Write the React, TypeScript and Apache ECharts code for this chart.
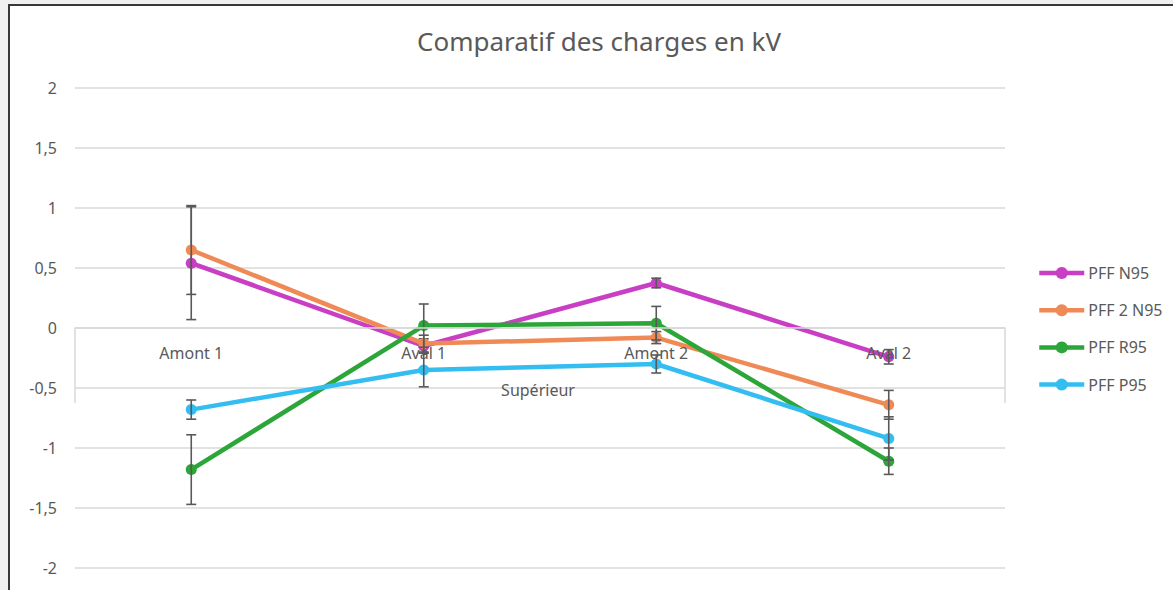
import React, { useEffect, useRef } from "react";
import * as echarts from "echarts";

const categories = ["Amont 1", "Aval 1", "Amont 2", "Aval 2"];
const groupLabel = "Supérieur";
const seriesNames = ["PFF N95", "PFF 2 N95", "PFF R95", "PFF P95"];
const valuesN95 = [0.54, -0.15, 0.375, -0.24];
const values2N95 = [0.65, -0.13, -0.08, -0.64];
const valuesR95 = [-1.18, 0.02, 0.04, -1.11];
const valuesP95 = [-0.68, -0.35, -0.3, -0.92];
const errN95 = [0.47, 0.06, 0.04, 0.06];
const err2N95 = [0.37, 0.07, 0.05, 0.12];
const errR95 = [0.29, 0.18, 0.14, 0.11];
const errP95 = [0.08, 0.14, 0.075, 0.18];
const colors = ["#c83ec4", "#ef8a56", "#2ca539", "#33bdf0"];

const W = 1163;
const H = 584;
const gridLeft = 65;
const gridWidth = 930;
const gridTop = 82;
const gridHeight = 480;
const textColor = "#595959";
const font = "'Noto Sans', 'Open Sans', sans-serif";

export default function App() {
  const ref = useRef<HTMLDivElement>(null);
  useEffect(() => {
    if (!ref.current) return;
    const chart = echarts.init(ref.current, undefined, { renderer: "svg" });
    const values = [valuesN95, values2N95, valuesR95, valuesP95];
    const errs = [errN95, err2N95, errR95, errP95];
    const lineSeries = values.map((v, i) => ({
      name: seriesNames[i],
      type: "line",
      data: v,
      symbol: "circle",
      symbolSize: 11,
      z: 2 + i * 2,
      lineStyle: { width: 4.5, color: colors[i] },
      itemStyle: { color: colors[i] },
    }));
    const errSeries = values.map((v, i) => ({
      type: "custom",
      z: 3 + i * 2,
      silent: true,
      data: v.map((val, k) => [k, val - errs[i][k], val + errs[i][k]]),
      renderItem: (params: any, api: any) => {
        const x = api.value(0);
        const lo = api.coord([x, api.value(1)]);
        const hi = api.coord([x, api.value(2)]);
        const style = { stroke: "#595959", lineWidth: 1.6 };
        const cap = 5;
        return {
          type: "group",
          children: [
            { type: "line", shape: { x1: lo[0], y1: lo[1], x2: hi[0], y2: hi[1] }, style },
            { type: "line", shape: { x1: lo[0] - cap, y1: lo[1], x2: lo[0] + cap, y2: lo[1] }, style },
            { type: "line", shape: { x1: hi[0] - cap, y1: hi[1], x2: hi[0] + cap, y2: hi[1] }, style },
          ],
        };
      },
    }));
    const zeroY = gridTop + gridHeight / 2;
    chart.setOption({
      animation: false,
      backgroundColor: "#ffffff",
      title: {
        text: "Comparatif des charges en kV",
        left: 584,
        textAlign: "center",
        top: 17,
        textStyle: { fontSize: 26, fontWeight: "normal", color: textColor, fontFamily: font },
      },
      legend: {
        orient: "vertical",
        left: 1027,
        top: 259,
        padding: 0,
        itemWidth: 45,
        itemHeight: 15,
        itemGap: 21.2,
        data: seriesNames,
        lineStyle: { width: 4.5 },
        textStyle: { fontSize: 16, lineHeight: 15, color: textColor, fontFamily: font, padding: [0, 0, 0, -1] },
      },
      grid: {
        left: gridLeft,
        top: gridTop,
        width: gridWidth,
        height: gridHeight,
        outerBoundsMode: "none",
        containLabel: false,
      },
      xAxis: {
        type: "category",
        data: categories,
        z: 20,
        position: "bottom",
        offset: -gridHeight / 2,
        axisLine: { onZero: false, lineStyle: { color: "#d9d9d9", width: 1.5 } },
        axisTick: { show: false },
        axisLabel: { margin: 17, fontSize: 16, color: textColor, fontFamily: font },
      },
      yAxis: {
        type: "value",
        min: -2,
        max: 2,
        interval: 0.5,
        axisLine: { show: false },
        axisTick: { show: false },
        splitLine: { lineStyle: { color: "#d9d9d9", width: 1.5 } },
        axisLabel: {
          margin: 18,
          fontSize: 16,
          color: textColor,
          fontFamily: font,
          formatter: (v: number) => String(v).replace(".", ","),
        },
      },
      graphic: [
        {
          type: "line",
          shape: { x1: gridLeft, y1: zeroY, x2: gridLeft, y2: zeroY + 75 },
          style: { stroke: "#d9d9d9", lineWidth: 1.5 },
        },
        {
          type: "line",
          shape: { x1: gridLeft + gridWidth, y1: zeroY, x2: gridLeft + gridWidth, y2: zeroY + 75 },
          style: { stroke: "#d9d9d9", lineWidth: 1.5 },
        },
        {
          type: "text",
          x: gridLeft + gridWidth / 2 - 2,
          y: zeroY + 62,
          z: 100,
          style: {
            text: groupLabel,
            fill: textColor,
            font: `16px ${font}`,
            textAlign: "center",
            textVerticalAlign: "middle",
          },
        },
      ],
      series: [...lineSeries, ...errSeries],
    });
    return () => chart.dispose();
  }, []);
  return (
    <div style={{ position: "fixed", left: 0, top: 0, width: 1173, height: 590, background: "#f0f0f0", overflow: "hidden" }}>
      <div
        style={{
          position: "absolute",
          left: 8,
          top: 4,
          width: W + 2,
          height: H + 2,
          boxSizing: "border-box",
          borderLeft: "2px solid #383838",
          borderTop: "2px solid #383838",
          background: "#fff",
        }}
      >
        <div ref={ref} style={{ width: W, height: H }} />
      </div>
    </div>
  );
}
